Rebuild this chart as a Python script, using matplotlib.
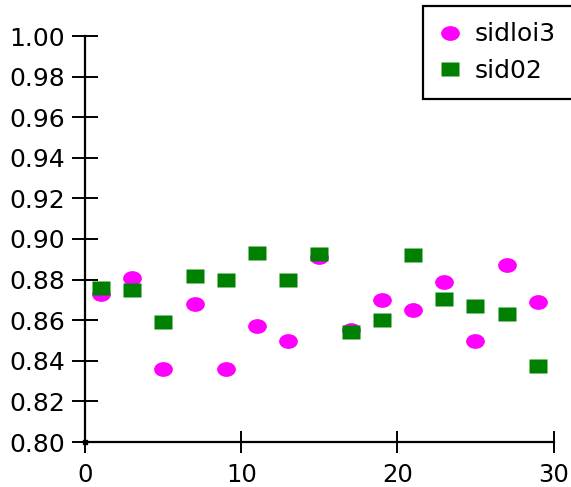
import matplotlib
matplotlib.use("Agg")
import matplotlib.pyplot as plt
from matplotlib.path import Path
from matplotlib.transforms import Affine2D
from matplotlib.ticker import FormatStrFormatter

# Values per run index
x_vals = [1, 3, 5, 7, 9, 11, 13, 15, 17, 19, 21, 23, 25, 27, 29]
sidloi3 = [0.873, 0.881, 0.836, 0.868, 0.836, 0.857, 0.850, 0.891,
           0.855, 0.870, 0.865, 0.879, 0.850, 0.887, 0.869]
sid02 = [0.876, 0.875, 0.859, 0.882, 0.880, 0.893, 0.880, 0.8925,
         0.854, 0.860, 0.892, 0.8705, 0.867, 0.863, 0.8375]

x_lim = [0, 30]
y_lim = [0.80, 1.00]
x_ticks = [0, 10, 20, 30]
y_ticks = [0.80, 0.82, 0.84, 0.86, 0.88, 0.90, 0.92, 0.94, 0.96, 0.98, 1.00]

plt.rcParams["font.family"] = ["DejaVu Sans"]

# slightly wide markers
aspect = 1.27
ellipse = Path.unit_circle().transformed(Affine2D().scale(aspect, 1.0))
rect = Path([(-aspect, -1), (aspect, -1), (aspect, 1), (-aspect, 1), (-aspect, -1)],
            [Path.MOVETO, Path.LINETO, Path.LINETO, Path.LINETO, Path.CLOSEPOLY])

fig = plt.figure(figsize=(5.71, 4.87), dpi=100)
ax = fig.add_axes([85.3 / 571, 45 / 487, 468.2 / 571, 406 / 487])

ax.plot(x_vals, sidloi3, linestyle="none", marker=ellipse, ms=13.5,
        color="#ff00ff", mec="none", label="sidloi3", clip_on=False)
ax.plot(x_vals, sid02, linestyle="none", marker=rect, ms=13.0,
        color="#008000", mec="none", label="sid02", clip_on=False)

# small dot where the axes meet
ax.plot(x_lim[0], y_lim[0], linestyle="none", marker="s", ms=3.5,
        color="black", clip_on=False)

ax.set_xlim(x_lim)
ax.set_ylim(y_lim)
ax.set_xticks(x_ticks)
ax.set_yticks(y_ticks)
ax.yaxis.set_major_formatter(FormatStrFormatter("%.2f"))

for side in ["top", "right"]:
    ax.spines[side].set_visible(False)
for side in ["left", "bottom"]:
    ax.spines[side].set_linewidth(1.6)
ax.spines["left"].set_bounds(y_lim[0], y_lim[1])
ax.spines["bottom"].set_bounds(x_lim[0], x_lim[1])

ax.tick_params(axis="y", direction="inout", length=19, width=1.4,
               labelsize=18, pad=5)
ax.tick_params(axis="x", direction="inout", length=16, width=1.4,
               labelsize=17.5, pad=7)

leg = ax.legend(loc="upper left",
                bbox_to_anchor=(423 / 571, 1 - 97 / 487, 160 / 571, 91 / 487),
                bbox_transform=fig.transFigure, mode="expand",
                borderaxespad=0, fontsize=18, fancybox=False, framealpha=1,
                edgecolor="black", borderpad=0.65, handlelength=0.85,
                handletextpad=0.55, labelspacing=0.5)
leg.get_frame().set_linewidth(1.6)

fig.savefig("out.png", dpi=100)
plt.close(fig)
